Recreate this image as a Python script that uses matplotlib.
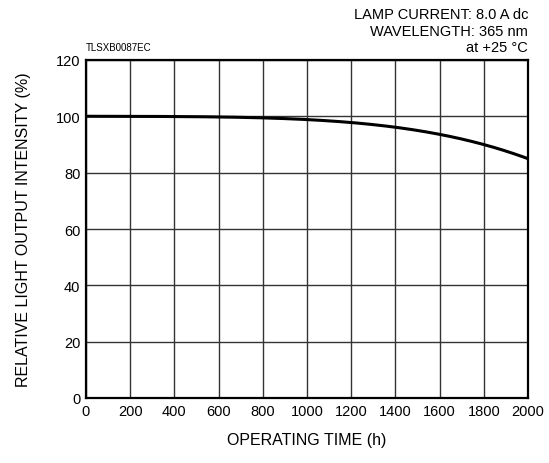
import matplotlib
matplotlib.use("Agg")
import matplotlib.pyplot as plt
import numpy as np

hours = [0, 200, 400, 600, 800, 1000, 1200, 1400, 1600, 1800, 2000]
intensity = [100.0, 100.0, 100.0, 99.8, 99.4, 98.7, 97.8, 96.3, 93.8, 89.6, 85.1]
x_ticks = [0, 200, 400, 600, 800, 1000, 1200, 1400, 1600, 1800, 2000]
y_ticks = [0, 20, 40, 60, 80, 100, 120]

plt.rcParams['font.family'] = ['Liberation Sans', 'DejaVu Sans']

fig = plt.figure(figsize=(5.49, 4.64), dpi=100)
W, H = 549, 464
l, r, t, b = 86, 528, 61, 399
ax = fig.add_axes([l / W, 1 - b / H, (r - l) / W, (b - t) / H])

# smooth curve through the read points
xs = np.linspace(0, 2000, 400)
coef = np.polyfit(hours, intensity, 4)
ys = np.polyval(coef, xs)
ax.plot(xs, ys, color='black', lw=2.2, zorder=3)

ax.set_xlim(0, 2000)
ax.set_ylim(0, 120)
ax.set_xticks(x_ticks)
ax.set_yticks(y_ticks)
ax.grid(True, color='#333333', lw=1.0)
ax.tick_params(length=0, labelsize=10.5, pad=4)
for s in ax.spines.values():
    s.set_linewidth(1.6)
    s.set_color('black')

ax.set_xlabel('OPERATING TIME (h)', fontsize=11.5, labelpad=10.5)
ax.set_ylabel('RELATIVE LIGHT OUTPUT INTENSITY (%)', fontsize=11.5, labelpad=18)

fig.text(l / W, 1 - 48 / H, 'TLSXB0087EC', fontsize=7, ha='left', va='center')
fig.text(r / W, 1 - 15 / H, 'LAMP CURRENT: 8.0 A dc', fontsize=10.5, ha='right', va='center')
fig.text(r / W, 1 - 32 / H, 'WAVELENGTH: 365 nm', fontsize=10.5, ha='right', va='center')
fig.text(r / W, 1 - 48.5 / H, 'at +25 °C', fontsize=10.5, ha='right', va='center')

fig.savefig('out.png', dpi=100)
